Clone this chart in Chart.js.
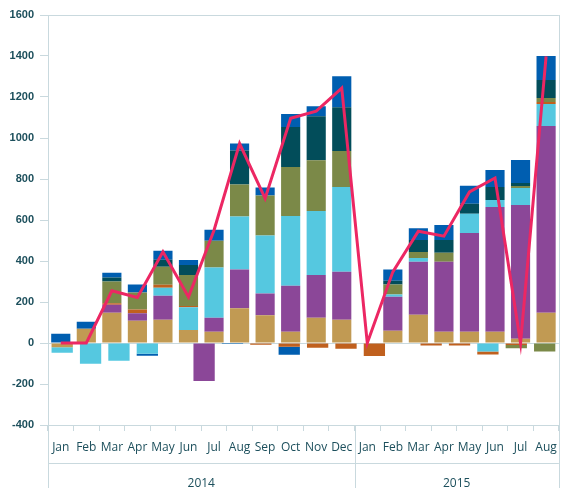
<!DOCTYPE html>
<html>
<head>
<meta charset="utf-8">
<script src="https://cdn.jsdelivr.net/npm/chart.js@4"></script>
<style>
  body { margin: 0; background: #fff; }
  #wrap { width: 566px; height: 491px; }
</style>
</head>
<body>
<div id="wrap"><canvas id="chart"></canvas></div>
<script>
// months shown on the axis, two year groups
const months = ['Jan','Feb','Mar','Apr','May','Jun','Jul','Aug','Sep','Oct','Nov','Dec',
                'Jan','Feb','Mar','Apr','May','Jun','Jul','Aug'];
const years = ['2014', '2015'];
const yearSizes = [12, 8];

// negative parts only run Jan 2014 - Jun 2015 (18 slots)
const negMonths = months.slice(0, 18);

// positive parts, one value per month
const tanPos    = [0, 70, 148, 109, 113, 64, 55, 169, 135, 55, 123, 113, 0, 60, 138, 55, 55, 55, 21, 148];
const purplePos = [0, 0, 39, 36, 117, 0, 68, 190, 107, 224, 209, 234, 0, 166, 258, 341, 482, 609, 652, 911];
const skyPos    = [0, 0, 0, 0, 39, 110, 245, 258, 282, 341, 312, 414, 0, 10, 19, 0, 93, 34, 83, 107];
const orangePos = [0, 0, 7, 18, 15, 7, 0, 0, 0, 0, 0, 0, 0, 0, 0, 0, 0, 0, 0, 10];
const olivePos  = [0, 0, 106, 83, 88, 151, 131, 156, 195, 239, 248, 175, 0, 49, 29, 44, 0, 0, 10, 19];
const tealPos   = [0, 0, 19, 0, 34, 49, 0, 166, 0, 195, 214, 214, 0, 19, 58, 63, 49, 63, 15, 88];
const bluePos   = [45, 34, 24, 39, 44, 24, 54, 34, 40, 63, 49, 151, 0, 54, 58, 73, 88, 83, 112, 117];

// negative parts
const tanNeg    = [-21, 0, 0, 0, 0, 0, 0, 0, 0, 0, 0, 0, 0, 0, 0, 0, 0, 0];
const purpleNeg = [0, 0, 0, 0, 0, -185, 0, 0, 0, 0, 0, 0, 0, 0, 0, 0, 0, 0];
const skyNeg    = [-26, -101, -86, -52, 0, 0, 0, 0, 0, 0, 0, 0, 0, 0, 0, -41, 0, 0];
const orangeNeg = [0, 0, 0, 0, 0, 0, 0, -8, -18, -23, -28, -63, 0, -12, -12, -15, -10, 0];
const oliveNeg  = [0, 0, 0, 0, 0, 0, 0, 0, 0, 0, 0, 0, 0, 0, 0, 0, -15, -41];
const blueNeg   = [0, 0, 0, -10, 0, 0, -5, 0, -39, 0, 0, 0, 0, 0, 0, 0, 0, 0];

// net total line
const netTotal = [0, 0, 255, 222, 445, 224, 550, 973, 705, 1096, 1131, 1243, 0, 347, 545, 521, 737, 805, 0, 1398];

const axisColor = '#c9d9de';
const textColor = '#1c4f5c';

function bar(data, color, axis) {
    return {
        type: 'bar',
        data: data,
        backgroundColor: color,
        borderWidth: 0,
        xAxisID: axis,
        order: 1,
        grouped: false,
        barPercentage: 0.75,
        categoryPercentage: 1.0
    };
}

// year group labels under the months
const yearGroups = {
    id: 'yearGroups',
    afterDraw(chart) {
        const c = chart.ctx;
        const area = chart.chartArea;
        const x = chart.scales.x;
        const bottom = 488;
        const midLine = 463.5;
        c.save();
        c.strokeStyle = axisColor;
        c.lineWidth = 1;
        let edges = [area.left];
        let start = 0;
        yearSizes.forEach(n => {
            start += n;
            edges.push(start < months.length
                ? (x.getPixelForValue(start - 1) + x.getPixelForValue(start)) / 2
                : area.right);
        });
        c.beginPath();
        edges.forEach((e, i) => {
            let px = Math.round(e) + 0.5;
            c.moveTo(px, i === edges.length - 1 ? area.top : area.bottom);
            c.lineTo(px, bottom);
        });
        c.moveTo(area.left, midLine);
        c.lineTo(area.right, midLine);
        c.stroke();

        c.fillStyle = textColor;
        c.font = '12px "Open Sans"';
        c.textAlign = 'center';
        c.textBaseline = 'middle';
        years.forEach((y, i) => {
            c.fillText(y, (edges[i] + edges[i + 1]) / 2, 484);
        });
        c.restore();
    }
};

let ctx = document.getElementById('chart').getContext('2d');
let chart = new Chart(ctx, {
    data: {
        labels: months,
        datasets: [
            {
                type: 'line',
                label: 'Net',
                data: netTotal,
                borderColor: '#ec2763',
                borderWidth: 3,
                pointRadius: 0,
                tension: 0,
                fill: false,
                order: 0,
                xAxisID: 'x'
            },
            bar(tanPos, '#c19a53', 'x'),
            bar(purplePos, '#8b4798', 'x'),
            bar(skyPos, '#55c8e0', 'x'),
            bar(orangePos, '#c0601e', 'x'),
            bar(olivePos, '#7b8948', 'x'),
            bar(tealPos, '#024d5a', 'x'),
            bar(bluePos, '#005eb0', 'x'),
            bar(tanNeg, '#c19a53', 'x2'),
            bar(purpleNeg, '#8b4798', 'x2'),
            bar(skyNeg, '#55c8e0', 'x2'),
            bar(orangeNeg, '#c0601e', 'x2'),
            bar(oliveNeg, '#7b8948', 'x2'),
            bar(blueNeg, '#005eb0', 'x2')
        ]
    },
    options: {
        responsive: true,
        maintainAspectRatio: false,
        animation: false,
        layout: { padding: { top: 15, right: 7, left: 0, bottom: 0 } },
        plugins: {
            legend: { display: false },
            tooltip: { enabled: false }
        },
        scales: {
            x: {
                stacked: true,
                offset: true,
                afterFit: s => { s.height = 66; },
                border: { display: true, color: axisColor },
                grid: {
                    offset: true,
                    drawOnChartArea: false,
                    drawTicks: true,
                    tickLength: 6,
                    color: axisColor
                },
                ticks: {
                    autoSkip: false,
                    maxRotation: 0,
                    padding: 9,
                    color: textColor,
                    font: { family: '"Open Sans"', size: 12 }
                }
            },
            x2: {
                type: 'category',
                labels: negMonths,
                display: false,
                stacked: true,
                offset: true
            },
            y: {
                stacked: true,
                min: -400,
                max: 1600,
                afterFit: s => { s.width = 48; },
                border: { display: true, color: axisColor },
                grid: {
                    drawTicks: true,
                    tickLength: 8,
                    tickColor: axisColor,
                    color: c => ([0, 1600, -400].includes(c.tick.value) ? axisColor : 'rgba(0,0,0,0)')
                },
                ticks: {
                    stepSize: 200,
                    padding: 6,
                    color: textColor,
                    callback: v => String(v),
                    font: { family: '"Liberation Sans"', size: 11, weight: 'bold' }
                }
            }
        }
    },
    plugins: [yearGroups]
});
</script>
</body>
</html>
